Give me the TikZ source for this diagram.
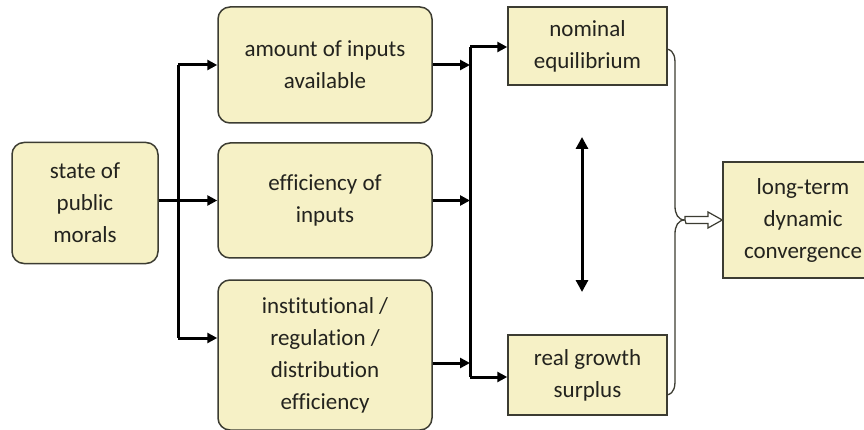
\documentclass[tikz,border=0pt]{standalone}
\usepackage{fontspec}
\setmainfont{Carlito}[Ligatures={NoCommon}]
\usetikzlibrary{arrows.meta}
\definecolor{boxfill}{RGB}{246,241,198}
\definecolor{boxline}{RGB}{60,60,50}
\definecolor{txt}{RGB}{35,35,30}
\begin{document}
\begin{tikzpicture}[x=1pt,y=1pt,
  rbox/.style={draw=boxline, line width=1.5pt, fill=boxfill, rounded corners=12pt,
    align=center, text=txt, font=\fontsize{23}{32}\selectfont, inner sep=0pt},
  sbox/.style={draw=boxline, line width=1.5pt, fill=boxfill,
    align=center, text=txt, font=\fontsize{23}{32}\selectfont, inner sep=0pt},
  conn/.style={line width=3pt, black},
  arr/.style={conn, -{Triangle[length=10pt,width=10pt]}},
]
\useasboundingbox (0,0) rectangle (864,-430);
\fill[white] (0,0) rectangle (864,-430);

% source
\node[rbox, minimum width=146pt, minimum height=121pt] (st) at (85,-203) {state of\\public\\morals};

% middle column
\node[rbox, minimum width=214pt, minimum height=116pt] (amt) at (325,-65) {amount of inputs\\available};
\node[rbox, minimum width=214pt, minimum height=115pt] (eff) at (325,-200.5) {efficiency of\\inputs};
\node[rbox, minimum width=214pt, minimum height=150pt] (inst) at (325,-355) {institutional /\\regulation /\\distribution\\efficiency};

% outcomes
\node[sbox, minimum width=159pt, minimum height=78pt] (nom) at (587.5,-46) {nominal\\equilibrium};
\node[sbox, minimum width=159pt, minimum height=80pt] (real) at (587.5,-375) {real growth\\surplus};
\node[sbox, minimum width=160pt, minimum height=116pt, text width=150pt] (conv) at (803,-220) {long-term\\dynamic\\convergence};

% left distribution bus
\coordinate (L1) at (178,-65);
\coordinate (L2) at (178,-338);
\draw[conn] (L1) -- (L2);
\draw[arr] (L1) -- (amt.west |- L1);
\draw[arr] (L2) -- (inst.west |- L2);
\draw[arr] (st.east |- eff.west) -- (eff.west);

% right collection bus
\coordinate (R1) at (470,-47);
\coordinate (R2) at (470,-377);
\draw[conn] (R1) -- (R2);
\draw[arr] (amt.east) -- (amt.east -| R1);
\draw[arr] (eff.east) -- (eff.east -| R1);
\coordinate (I3) at (inst.east |- 0,-363);
\draw[arr] (I3) -- (I3 -| R1);
\draw[arr] (R1) -- (nom.west |- R1);
\draw[arr] (R2) -- (real.west |- R2);

% two-way link between outcomes
\coordinate (V1) at (582,-137);
\coordinate (V2) at (582,-292);
\draw[conn, {Triangle[length=12pt,width=12pt]}-{Triangle[length=12pt,width=12pt]}] (V1) -- (V2);

% brace grouping the outcomes
\coordinate (B1) at (667,-49);
\coordinate (B2) at (667,-395);
\coordinate (BT) at (685,-220);
\draw[line width=1.3pt, boxline]
  (B1) .. controls (675,-51) and (675,-58) .. (675,-66)
  -- (675,-206) .. controls (675,-214) and (678,-220) .. (BT)
  .. controls (678,-220) and (675,-226) .. (675,-234)
  -- (675,-378) .. controls (675,-386) and (675,-393) .. (B2);

% hollow arrow into the convergence box
\draw[line width=1.2pt, boxline, fill=white]
  (BT) -- ++(0,3.5) -- (708,-216.5) -- (708,-212) -- (conv.west)
  -- (708,-228) -- (708,-223.5) -- (686,-223.5) -- cycle;
\end{tikzpicture}
\end{document}
